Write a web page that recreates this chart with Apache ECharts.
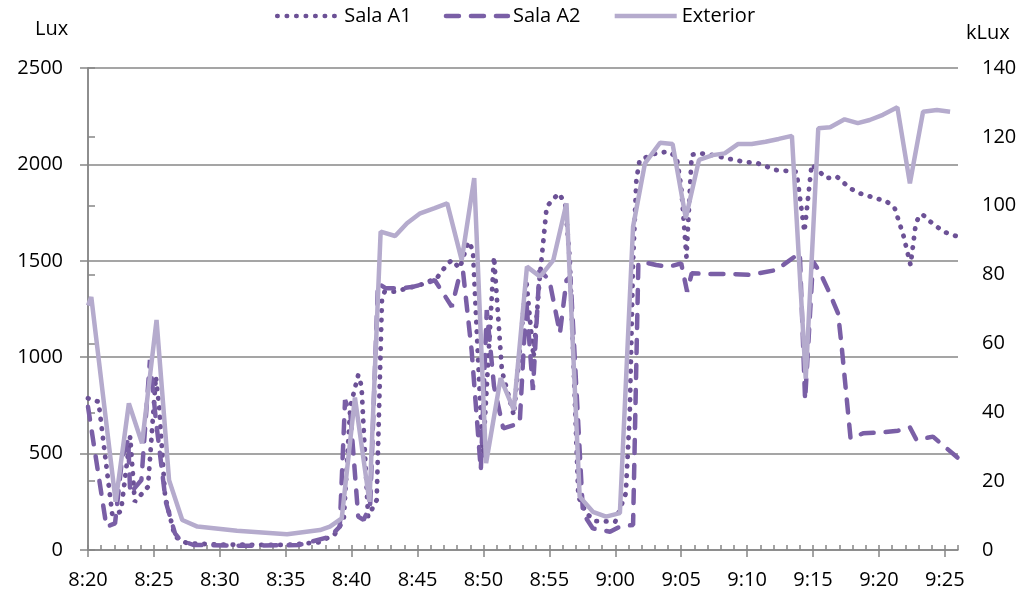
<!DOCTYPE html>
<html>
<head>
<meta charset="utf-8">
<title>Lux</title>
<script src="https://cdn.jsdelivr.net/npm/echarts@6/dist/echarts.min.js"></script>
<style>
  html, body { margin: 0; padding: 0; background: #fff; }
  #chart { width: 1030px; height: 594px; }
</style>
</head>
<body>
<div id="chart"></div>
<script>
// minutos desde las 8:20
var a1Min = [0, 0.8, 1.85, 2.5, 3.2, 3.55, 4.55, 5.15, 5.4, 5.85, 6.6, 7.5, 10, 15, 17.5, 18.7, 19.4, 19.9, 20.5, 20.75, 21.25, 21.9, 22.3, 22.5, 23.3, 24.2, 25.2, 26.45, 27.2, 27.6, 28.2, 28.85, 29.2, 29.95, 30.8, 31.4, 32.3, 33.25, 33.8, 34.25, 34.8, 35.7, 36.2, 36.55, 37.2, 37.8, 38.5, 40.0, 40.8, 41.1, 41.35, 41.6, 41.85, 43.1, 44.0, 44.65, 45.0, 45.4, 45.8, 46.4, 47.4, 48.4, 49.7, 50.8, 52.2, 53.75, 54.35, 54.9, 55.5, 56.0, 56.8, 57.8, 58.55, 59.8, 60.6, 61.2, 61.85, 62.4, 62.8, 63.1, 63.35, 63.9, 64.9, 66];
var a1Lux = [787, 769, 180, 200, 588, 250, 328, 899, 743, 276, 69, 35, 28, 26, 40, 80, 156, 743, 908, 850, 173, 259, 1297, 1340, 1340, 1357, 1375, 1409, 1478, 1504, 1461, 1599, 1556, 480, 1521, 930, 700, 1400, 1000, 1400, 1781, 1850, 1800, 1504, 276, 190, 150, 147, 294, 709, 1500, 1919, 2023, 2058, 2066, 2040, 1884, 1520, 2050, 2058, 2049, 2032, 2014, 2006, 1971, 1962, 1651, 2000, 1962, 1928, 1937, 1876, 1850, 1824, 1807, 1772, 1634, 1478, 1694, 1738, 1738, 1703, 1651, 1625];

var a2Min = [0, 1.4, 2.05, 2.6, 3.05, 3.2, 4.05, 4.7, 5.15, 5.9, 6.6, 7.0, 8.0, 12, 16, 18.35, 19.1, 19.5, 19.9, 20.5, 20.9, 21.4, 22.0, 22.6, 23.7, 24.7, 25.7, 26.3, 27.6, 28.1, 28.45, 29.1, 29.8, 30.25, 30.8, 31.5, 32.75, 33.25, 33.75, 34.25, 35.0, 35.8, 36.3, 36.6, 37.55, 38.3, 39.6, 40.35, 41.35, 41.75, 42.0, 43.1, 44.1, 45.0, 45.45, 45.8, 47.05, 48.7, 50.2, 52.2, 53.6, 54.0, 54.4, 55.0, 55.5, 56.15, 56.9, 57.15, 57.85, 58.8, 60.05, 61.45, 62.35, 62.85, 64.1, 66];
var a2Lux = [743, 121, 138, 484, 571, 294, 363, 986, 674, 250, 86, 52, 26, 22, 26, 69, 121, 778, 710, 173, 156, 225, 1383, 1357, 1357, 1366, 1383, 1400, 1262, 1400, 1444, 1037, 415, 1245, 850, 631, 657, 1297, 830, 1452, 1400, 1124, 1400, 1418, 190, 112, 95, 121, 130, 1480, 1496, 1478, 1470, 1487, 1340, 1435, 1432, 1432, 1427, 1452, 1521, 1539, 778, 1496, 1444, 1349, 1228, 1072, 579, 605, 609, 619, 636, 571, 588, 477];

var extMin = [0, 0.25, 2.1, 3.1, 4.1, 5.2, 6.15, 7.15, 8.3, 11.3, 15.1, 17.6, 18.35, 19.25, 20.25, 21.35, 22.2, 23.3, 24.2, 25.2, 26.3, 27.25, 28.35, 29.3, 30.2, 31.3, 32.3, 33.3, 34.3, 35.3, 36.3, 37.3, 38.3, 39.3, 40.35, 41.35, 42.25, 43.4, 44.35, 45.35, 46.35, 47.4, 48.3, 49.3, 50.35, 51.4, 52.4, 53.4, 54.45, 55.4, 56.3, 57.4, 58.4, 59.3, 60.3, 61.4, 62.35, 63.35, 64.4, 65.4];
var extKlux = [71, 73.5, 14, 42.6, 31, 66.8, 20.3, 8.7, 6.8, 5.6, 4.6, 5.8, 6.8, 9.2, 44.3, 14, 92.5, 91.2, 94.9, 97.8, 99.3, 100.7, 84.2, 108, 25.2, 49.9, 40.7, 82.3, 79.4, 84.2, 100.7, 15.5, 11.1, 9.7, 10.7, 93.9, 112.3, 118.3, 117.9, 96.4, 113.3, 114.7, 115.2, 117.9, 117.9, 118.6, 119.4, 120.3, 49.8, 122.5, 122.8, 125.1, 124, 124.9, 126.4, 128.6, 106.5, 127.3, 127.8, 127.3];

var seriesNames = ['Sala A1', 'Sala A2', 'Exterior'];
var axisNames = ['Lux', 'kLux'];

function pairs(xs, ys) {
    var out = [];
    for (var i = 0; i < xs.length; i++) out.push([xs[i], ys[i]]);
    return out;
}

// 0 -> "8:20", 65 -> "9:25"
function hora(v) {
    var t = 20 + v;
    var h = 8 + Math.floor(t / 60);
    var m = t % 60;
    return h + ':' + (m < 10 ? '0' + m : m);
}

var font = "'Open Sans', 'Noto Sans', sans-serif";
var gris = '#878787';

var myChart = echarts.init(document.getElementById('chart'));
var option = {
    animation: false,
    backgroundColor: '#fff',
    textStyle: { fontFamily: font },
    // nombres de los ejes
    graphic: [
        { type: 'text', left: 35, top: 19, style: { text: axisNames[0], font: '20px ' + font, fill: '#000' } },
        { type: 'text', left: 966, top: 23, style: { text: axisNames[1], font: '20px ' + font, fill: '#000' } }
    ],
    legend: {
        top: 1,
        left: 'center',
        itemWidth: 62,
        itemHeight: 8,
        itemGap: 32,
        data: seriesNames,
        itemStyle: { opacity: 0 },
        lineStyle: { width: 4.5 },
        textStyle: { fontFamily: font, fontSize: 20, color: '#000' }
    },
    grid: { left: 88, right: 72, top: 68, bottom: 44 },
    xAxis: [
        {
            type: 'value',
            min: 0,
            max: 66,
            interval: 5,
            axisLine: { show: true, lineStyle: { color: gris, width: 1.5 } },
            axisTick: { show: true, length: 7, lineStyle: { color: gris, width: 1.5 } },
            splitLine: { show: false },
            axisLabel: {
                margin: 20,
                showMaxLabel: false,
                fontFamily: font,
                fontSize: 20,
                color: '#000',
                formatter: hora
            }
        },
        {
            // marcas de cada minuto
            type: 'value',
            min: 0,
            max: 66,
            interval: 1,
            position: 'bottom',
            axisLine: { show: false },
            axisTick: { show: true, inside: true, length: 5, lineStyle: { color: gris, width: 1.5 } },
            axisLabel: { show: false },
            splitLine: { show: false }
        }
    ],
    yAxis: [
        {
            type: 'value',
            position: 'left',
            min: 0,
            max: 2500,
            interval: 500,
            axisLine: { show: true, lineStyle: { color: gris, width: 1.5 } },
            axisTick: { show: true, length: 8, lineStyle: { color: gris, width: 1.5 } },
            splitLine: { show: true, lineStyle: { color: gris, width: 1.5 } },
            axisLabel: {
                margin: 25, fontFamily: font, fontSize: 20, color: '#000',
                formatter: function (v) { return String(v); }
            }
        },
        {
            type: 'value',
            position: 'right',
            min: 0,
            max: 140,
            interval: 20,
            axisLine: { show: true, lineStyle: { color: gris, width: 1.5 } },
            axisTick: { show: true, length: 7, lineStyle: { color: gris, width: 1.5 } },
            splitLine: { show: false },
            axisLabel: { margin: 24, fontFamily: font, fontSize: 20, color: '#000' }
        }
    ],
    series: [
        {
            name: seriesNames[0],
            type: 'line',
            xAxisIndex: 0,
            yAxisIndex: 0,
            symbol: 'none',
            data: pairs(a1Min, a1Lux),
            itemStyle: { color: '#6c5196' },
            lineStyle: { color: '#6c5196', width: 4.8, type: [0.5, 9], cap: 'round' }
        },
        {
            name: seriesNames[1],
            type: 'line',
            xAxisIndex: 0,
            yAxisIndex: 0,
            symbol: 'none',
            data: pairs(a2Min, a2Lux),
            itemStyle: { color: '#7a5fa6' },
            lineStyle: { color: '#7a5fa6', width: 4.5, type: [13, 12], cap: 'round' }
        },
        {
            name: seriesNames[2],
            type: 'line',
            xAxisIndex: 0,
            yAxisIndex: 1,
            symbol: 'none',
            data: pairs(extMin, extKlux),
            itemStyle: { color: '#b5abcd' },
            lineStyle: { color: '#b5abcd', width: 4.5 }
        }
    ]
};
myChart.setOption(option);
</script>
</body>
</html>
